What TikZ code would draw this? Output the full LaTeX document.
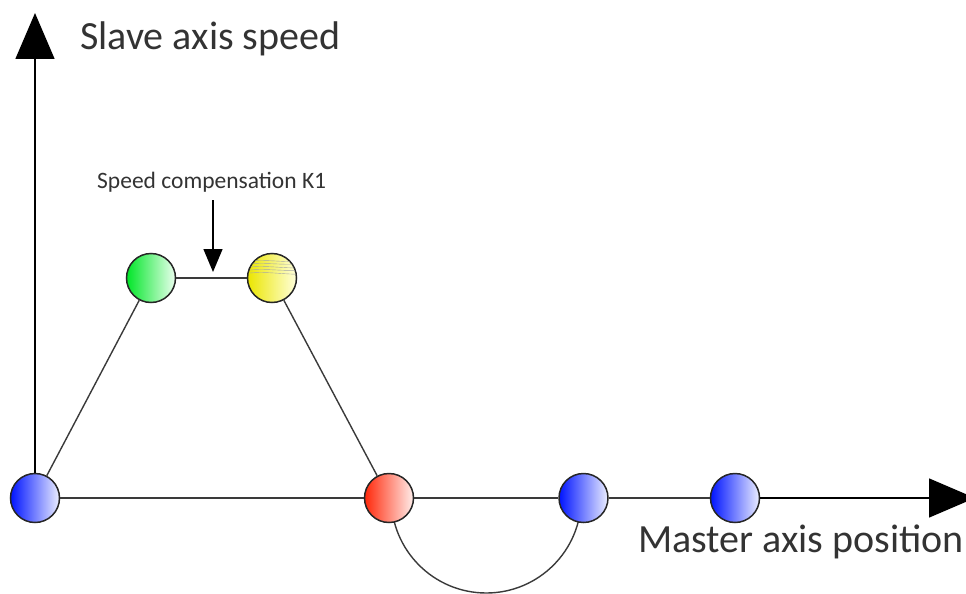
\documentclass[tikz,border=0pt]{standalone}
\usepackage{fontspec}
\setmainfont{Carlito}
\usetikzlibrary{arrows.meta,calc}
\definecolor{linegray}{HTML}{3A3A3A}
\definecolor{txtgray}{HTML}{333333}
\begin{document}
\begin{tikzpicture}[x=1pt,y=-1pt,
  conn/.style={draw=linegray,line width=1.4pt},
  pt/.style={circle,draw=black!85,line width=1.5pt,minimum size=49pt,inner sep=0pt},
  bluept/.style={pt,left color={rgb,255:red,0;green,20;blue,255},right color={rgb,255:red,235;green,238;blue,255}},
  greenpt/.style={pt,left color={rgb,255:red,0;green,230;blue,40},right color={rgb,255:red,235;green,255;blue,238}},
  yellowpt/.style={pt,left color={rgb,255:red,235;green,230;blue,0},right color={rgb,255:red,255;green,255;blue,220}},
  redpt/.style={pt,left color={rgb,255:red,255;green,40;blue,10},right color={rgb,255:red,255;green,238;blue,235}},
  bigtip/.style={-{Triangle[length=46pt,width=39pt]}},
  smalltip/.style={-{Triangle[length=23pt,width=19pt]}},
  axlabel/.style={font=\fontsize{40}{48}\selectfont,text=txtgray,inner sep=0pt,anchor=base west},
  smalllabel/.style={font=\fontsize{23.5}{28}\selectfont,text=txtgray,inner sep=0pt,anchor=base west}]
\useasboundingbox (0,0) rectangle (966,594);
\coordinate (pr) at (389,498);
\coordinate (pb2) at (583.5,498);
% lower arc between red point and second blue point
\draw[conn] ($(pr)!0.5!(pb2)$) ++(-95,0) arc[start angle=180,end angle=0,radius=95,y=1pt];
% points
\node[bluept] (b1) at (35,498) {};
\node[greenpt] (g) at (151,278) {};
\node[yellowpt] (y) at (272,278) {};
\node[redpt] (r) at (pr) {};
\node[bluept] (b2) at (pb2) {};
\node[bluept] (b3) at (735,498) {};
% stripes on the yellow point
\begin{scope}
  \clip (y.center) circle[radius=24pt];
  \foreach \dy/\sh in {-17/2,-14/0,-11/3,-8/1,-5/4}{
    \draw[gray!70,line width=0.4pt] ($(y.center)+(-22,\dy)$) .. controls ($(y.center)+(-5,\dy-1.5)$) and ($(y.center)+(8,\dy+1)$) .. ($(y.center)+(25,\dy+\sh*0.3)$);
  }
\end{scope}
% axes
\coordinate (ytip) at (35,13);
\coordinate (xtip) at (975,498);
\draw[conn,bigtip,black] (b1) -- (ytip);
\draw[conn] (b1) -- (r);
\draw[conn] (r) -- (b2);
\draw[conn] (b2) -- (b3);
\draw[conn,bigtip,black] (b3) -- (xtip);
% profile
\draw[conn] (b1) -- (g);
\draw[conn] (g) -- (y);
\draw[conn] (y) -- (r);
% labels
\node[axlabel] (ylab) at (80,50) {Slave axis speed};
\node[axlabel] (xlab) at (638,552) {Master axis position};
\node[smalllabel] (k1) at (97,188) {Speed compensation K1};
\coordinate (k1top) at (213,200);
\coordinate (k1tip) at (213,272);
\draw[conn,smalltip,black] (k1top) -- (k1tip);
\end{tikzpicture}
\end{document}
